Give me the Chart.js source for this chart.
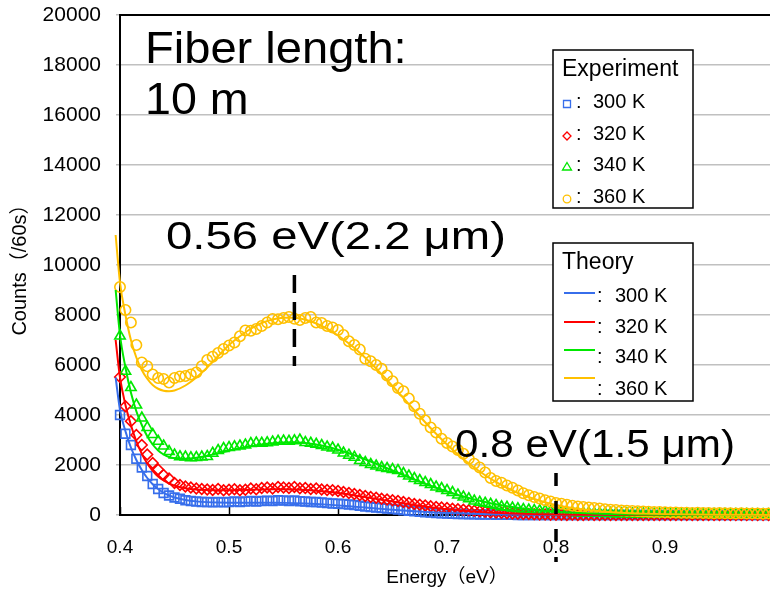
<!DOCTYPE html>
<html>
<head>
<meta charset="utf-8">
<script src="https://cdn.jsdelivr.net/npm/chart.js@4/dist/chart.umd.min.js"></script>
<style>
  html, body { margin: 0; padding: 0; overflow: hidden; background: #fff; }
  #wrap { width: 790px; height: 593px; }
</style>
</head>
<body>
<div id="wrap"><canvas id="c" width="790" height="593"></canvas></div>
<script>
// Measured spectra: photon energy (eV) and counts per 60 s
const energy = [
  0.400,0.405,0.410,0.415,0.420,0.425,0.430,0.435,0.440,0.445,
  0.450,0.455,0.460,0.465,0.470,0.475,0.480,0.485,0.490,0.495,
  0.500,0.505,0.510,0.515,0.520,0.525,0.530,0.535,0.540,0.545,
  0.550,0.555,0.560,0.565,0.570,0.575,0.580,0.585,0.590,0.595,
  0.600,0.605,0.610,0.615,0.620,0.625,0.630,0.635,0.640,0.645,
  0.650,0.655,0.660,0.665,0.670,0.675,0.680,0.685,0.690,0.695,
  0.700,0.705,0.710,0.715,0.720,0.725,0.730,0.735,0.740,0.745,
  0.750,0.755,0.760,0.765,0.770,0.775,0.780,0.785,0.790,0.795,
  0.800,0.805,0.810,0.815,0.820,0.825,0.830,0.835,0.840,0.845,
  0.850,0.855,0.860,0.865,0.870,0.875,0.880,0.885,0.890,0.895,
  0.900,0.905,0.910,0.915,0.920,0.925,0.930,0.935,0.940,0.945,
  0.950,0.955,0.960,0.965,0.970,0.975,0.980,0.985,0.990,0.995,
  1.000
];
const exp300 = [
  4000,3250,2800,2250,1900,1560,1240,1040,880,780,
  700,650,590,560,540,520,520,510,520,510,
  520,540,520,540,560,540,560,570,560,590,
  580,560,580,550,540,520,520,500,480,460,
  450,440,420,400,370,340,320,300,280,260,
  240,220,190,170,150,130,110,100,80,70,
  60,50,40,40,30,30,20,20,20,10,
  10,10,10,0,0,0,0,0,0,0,
  0,0,0,0,0,0,0,0,0,0,
  0,0,0,0,0,0,0,0,0,0,
  0,0,0,0,0,0,0,0,0,0,
  0,0,0,0,0,0,0,0,0,0,
  0
];
const exp320 = [
  5520,4350,3750,3200,2800,2420,2080,1820,1600,1460,
  1280,1200,1140,1100,1060,1040,1020,1000,1040,990,
  1010,1030,990,1010,1060,1030,1080,1100,1060,1120,
  1100,1080,1120,1070,1080,1040,1060,1020,1000,990,
  960,920,880,840,800,760,720,690,650,620,
  590,560,520,480,440,410,380,350,320,300,
  280,250,230,210,190,170,150,130,110,100,
  90,70,60,50,40,40,30,20,20,10,
  10,10,0,10,0,0,10,0,0,0,
  0,0,0,0,0,0,0,0,0,0,
  0,0,0,0,0,0,0,0,0,0,
  0,0,0,0,0,0,0,0,0,0,
  0
];
const exp340 = [
  7160,5750,5100,4400,3880,3500,3220,2950,2760,2540,
  2400,2330,2320,2290,2300,2320,2340,2470,2580,2660,
  2700,2730,2760,2800,2860,2880,2870,2890,2920,2950,
  2960,2950,2970,3000,2900,2870,2830,2780,2720,2680,
  2600,2480,2390,2310,2180,2100,2020,1960,1900,1860,
  1820,1780,1660,1560,1460,1380,1300,1220,1120,1060,
  980,900,800,720,650,560,510,470,430,380,
  330,310,280,250,220,200,180,170,160,140,
  130,120,110,100,90,80,80,70,70,60,
  60,50,50,50,40,40,40,40,30,40,
  30,30,30,20,30,20,30,20,20,20,
  20,20,10,20,10,20,10,10,10,10,
  10
];
const exp360 = [
  9120,8200,7700,6800,6100,5950,5620,5480,5440,5300,
  5480,5540,5560,5620,5700,5950,6200,6330,6480,6640,
  6780,6900,7150,7380,7370,7440,7560,7700,7840,7830,
  7880,7920,7850,7800,7880,7920,7700,7680,7560,7500,
  7400,7200,6950,6800,6620,6250,6150,6000,5850,5580,
  5350,5080,4950,4660,4350,4050,3780,3500,3300,3050,
  2880,2740,2600,2450,2250,2050,1900,1700,1480,1360,
  1290,1180,1090,980,870,790,720,660,590,540,
  480,450,410,370,340,320,300,280,260,230,
  210,200,180,170,160,150,140,130,120,120,
  110,100,100,90,90,80,90,80,80,70,
  80,70,70,60,70,60,60,60,50,60,
  50
];

// Calculated spectra
const theoryEnergy = [
  0.396,0.400,0.405,0.410,0.415,0.420,0.425,0.430,0.435,0.440,
  0.445,0.450,0.460,0.470,0.480,0.490,0.500,0.510,0.520,0.530,
  0.540,0.550,0.560,0.570,0.580,0.590,0.600,0.610,0.620,0.630,
  0.640,0.650,0.660,0.670,0.680,0.690,0.700,0.710,0.720,0.730,
  0.740,0.750,0.760,0.770,0.780,0.790,0.800,0.820,0.840,0.860,
  0.880,0.900,0.950,1.000
];
const theory300 = [
  5500,4200,3350,2700,2200,1800,1480,1230,1040,890,
  780,700,600,545,515,500,495,495,495,495,
  490,485,475,460,440,415,385,350,315,280,
  245,210,178,150,125,102,83,67,54,43,
  34,27,21,16,12,9,7,4,2,1,
  1,0,0,0
];
const theory320 = [
  7000,5500,4400,3600,2950,2450,2060,1770,1540,1380,
  1260,1170,1070,1020,1000,990,990,1000,1010,1020,
  1030,1030,1020,1000,970,930,880,820,750,680,
  610,540,470,400,340,285,235,190,155,125,
  100,78,60,46,35,27,20,11,6,3,
  2,1,0,0
];
const theory340 = [
  9000,7200,5900,4900,4150,3600,3150,2820,2580,2420,
  2320,2270,2250,2290,2370,2470,2570,2670,2750,2820,
  2870,2900,2910,2880,2820,2730,2610,2470,2310,2140,
  1960,1780,1600,1420,1250,1090,940,800,680,570,
  470,390,320,260,210,170,135,85,52,32,
  20,12,4,1
];
const theory360 = [
  11200,9300,8000,7000,6300,5800,5450,5200,5050,4970,
  4950,4980,5180,5500,5900,6350,6800,7150,7450,7680,
  7820,7890,7890,7810,7660,7450,7180,6860,6490,6080,
  5630,5160,4680,4190,3710,3250,2820,2420,2060,1740,
  1450,1200,980,800,640,510,400,250,150,90,
  55,35,12,4
];

const temperatures = ['300 K', '320 K', '340 K', '360 K'];
const xTickLabels = ['0.4', '0.5', '0.6', '0.7', '0.8', '0.9', '1'];

// Marked energies
const peakEnergy = 0.56;   // 2.2 um
const edgeEnergy = 0.8;    // 1.5 um
const peakMarkSpan = [9600, 5960];
const edgeMarkSpan = [1680, -1880];

// ---------------------------------------------------------------
const FONT = '"Liberation Sans", Arial, "Noto Sans CJK JP", sans-serif';
const colors = ['rgb(55,110,235)', 'rgb(255,0,0)', 'rgb(0,232,0)', 'rgb(255,192,0)'];
const styles = ['rect', 'rectRot', 'triangle', 'circle'];
const radii = [6.2, 5.3, 6.0, 5.2];
const expSeries = [exp300, exp320, exp340, exp360];
const theorySeries = [theory300, theory320, theory340, theory360];

const toPoints = (xs, ys) => xs.map((x, i) => ({ x, y: ys[i] }));

const datasets = [];
expSeries.forEach((s, i) => {
  datasets.push({
    label: 'Experiment ' + temperatures[i],
    data: toPoints(energy, s),
    showLine: false,
    pointStyle: styles[i],
    pointRadius: radii[i],
    pointBorderWidth: 1.6,
    pointBorderColor: colors[i],
    pointBackgroundColor: 'rgba(0,0,0,0)',
    clip: false,
    order: 30 - i
  });
});
theorySeries.forEach((s, i) => {
  datasets.push({
    label: 'Theory ' + temperatures[i],
    data: toPoints(theoryEnergy, s),
    showLine: true,
    pointRadius: 0,
    borderColor: colors[i],
    borderWidth: 2,
    cubicInterpolationMode: 'monotone',
    clip: false,
    order: 20 - i
  });
});
[[peakEnergy, peakMarkSpan, [18, 9]], [edgeEnergy, edgeMarkSpan, [13, 15]]].forEach(([e, span, dash]) => {
  datasets.push({
    label: 'mark ' + e,
    data: span.map(y => ({ x: e, y })),
    showLine: true,
    pointRadius: 0,
    borderColor: '#000',
    borderWidth: 3.5,
    borderDash: dash,
    borderCapStyle: 'butt',
    clip: false,
    order: 0
  });
});

// Free text on the plot
const notes = [
  { text: 'Fiber length:', x: 145, y: 63, size: 44, sx: 1.07 },
  { text: '10 m', x: 145, y: 114, size: 44, sx: 1.06 },
  { text: '0.56 eV(2.2 \u03bcm)', x: 166, y: 249, size: 39, width: 340 },
  { text: '0.8 eV(1.5 \u03bcm)', x: 455, y: 457, size: 39, width: 280 }
];

function drawMarker(ctx, style, x, y, color) {
  ctx.strokeStyle = color;
  ctx.lineWidth = 1.3;
  ctx.beginPath();
  if (style === 'rect') ctx.rect(x - 3.5, y - 3.5, 7, 7);
  else if (style === 'rectRot') {
    ctx.moveTo(x - 4, y); ctx.lineTo(x, y - 4); ctx.lineTo(x + 4, y); ctx.lineTo(x, y + 4); ctx.closePath();
  } else if (style === 'triangle') {
    ctx.moveTo(x, y - 4.5); ctx.lineTo(x + 4.5, y + 3); ctx.lineTo(x - 4.5, y + 3); ctx.closePath();
  } else ctx.arc(x, y, 3.8, 0, Math.PI * 2);
  ctx.stroke();
}

const overlay = {
  id: 'overlay',
  beforeDatasetsDraw(chart) {
    const { ctx, chartArea: a, scales: { x } } = chart;
    ctx.save();
    ctx.strokeStyle = '#000';
    ctx.lineWidth = 2;
    ctx.beginPath();
    ctx.moveTo(a.left, a.top);
    ctx.lineTo(a.right, a.top);
    ctx.lineTo(a.right, a.bottom);
    ctx.stroke();
    // inward tick marks on the energy axis
    ctx.lineWidth = 1.5;
    x.ticks.forEach(t => {
      const px = Math.round(x.getPixelForValue(t.value)) + 0.5;
      ctx.beginPath();
      ctx.moveTo(px, a.bottom);
      ctx.lineTo(px, a.bottom - 8);
      ctx.stroke();
    });
    ctx.restore();
  },
  afterDraw(chart) {
    const ctx = chart.ctx;
    ctx.save();
    ctx.fillStyle = '#000';
    ctx.textBaseline = 'alphabetic';
    ctx.textAlign = 'left';
    notes.forEach(n => {
      ctx.font = n.size + 'px ' + FONT;
      const w = ctx.measureText(n.text).width;
      const sx = n.width ? n.width / w : n.sx;
      ctx.save();
      ctx.translate(n.x, n.y);
      ctx.scale(sx, 1);
      ctx.fillText(n.text, 0, 0);
      ctx.restore();
    });

    // Experiment legend
    ctx.fillStyle = '#fff';
    ctx.fillRect(553, 50, 140, 158);
    ctx.strokeStyle = '#000';
    ctx.lineWidth = 1.5;
    ctx.strokeRect(553, 50, 140, 158);
    ctx.fillStyle = '#000';
    ctx.font = '23px ' + FONT;
    ctx.fillText('Experiment', 562, 76);
    const expRows = [108, 140, 171, 203];
    ctx.font = '20px ' + FONT;
    expRows.forEach((by, i) => {
      drawMarker(ctx, styles[i], 567, by - 4, colors[i]);
      ctx.fillStyle = '#000';
      ctx.fillText(':', 576, by);
      ctx.fillText(temperatures[i], 593, by);
    });

    // Theory legend
    ctx.fillStyle = '#fff';
    ctx.fillRect(553, 243, 140, 158);
    ctx.strokeStyle = '#000';
    ctx.lineWidth = 1.5;
    ctx.strokeRect(553, 243, 140, 158);
    ctx.fillStyle = '#000';
    ctx.font = '23px ' + FONT;
    ctx.fillText('Theory', 562, 269);
    const thLines = [293, 322, 350, 378];
    const thRows = [302, 333, 363, 395];
    ctx.font = '20px ' + FONT;
    thRows.forEach((by, i) => {
      ctx.strokeStyle = colors[i];
      ctx.lineWidth = 2;
      ctx.beginPath();
      ctx.moveTo(564, thLines[i]);
      ctx.lineTo(595, thLines[i]);
      ctx.stroke();
      ctx.fillStyle = '#000';
      ctx.fillText(':', 597, by);
      ctx.fillText(temperatures[i], 615, by);
    });
    ctx.restore();
  }
};

Chart.defaults.font.family = FONT;
Chart.defaults.color = '#000';

new Chart(document.getElementById('c'), {
  type: 'scatter',
  data: { datasets },
  options: {
    responsive: false,
    animation: false,
    events: [],
    layout: { autoPadding: false, padding: { left: 0, right: 16, top: 15, bottom: 0 } },
    plugins: { legend: { display: false }, tooltip: { enabled: false } },
    scales: {
      x: {
        type: 'linear',
        min: 0.4,
        max: 1.0,
        ticks: {
          stepSize: 0.1,
          padding: 21,
          maxRotation: 0,
          font: { size: 19 },
          color: '#000',
          callback: (v, i) => xTickLabels[i] ?? ''
        },
        grid: { drawOnChartArea: false, drawTicks: false },
        border: { color: '#000', width: 2 },
        title: {
          display: true,
          text: 'Energy\uff08eV\uff09',
          font: { size: 19 },
          color: '#000',
          padding: { top: 0, bottom: 4 }
        },
        afterFit: s => { s.height = 78; s.paddingLeft = 0; s.paddingRight = 0; }
      },
      y: {
        min: 0,
        max: 20000,
        ticks: {
          stepSize: 2000,
          padding: 15,
          font: { size: 21 },
          color: '#000',
          callback: v => String(v)
        },
        grid: { color: 'rgb(192,192,192)', lineWidth: 1.5, tickLength: 4 },
        border: { color: '#000', width: 2 },
        title: {
          display: true,
          text: 'Counts\uff08/60s\uff09',
          font: { size: 20 },
          color: '#000',
          padding: { top: 8, bottom: 0 }
        },
        afterFit: s => { s.width = 120; s.paddingTop = 0; s.paddingBottom = 0; }
      }
    }
  },
  plugins: [overlay]
});
</script>
</body>
</html>
